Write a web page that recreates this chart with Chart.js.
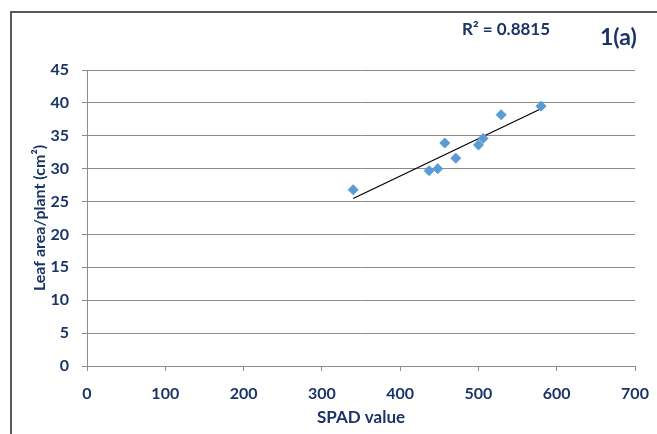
<!DOCTYPE html>
<html>
<head>
<meta charset="utf-8">
<script src="https://cdn.jsdelivr.net/npm/chart.js@4"></script>
<style>
    html, body { margin: 0; padding: 0; background: #fff; }
    #wrap { position: relative; width: 657px; height: 434px; overflow: hidden; }
    #frame { position: absolute; left: 10px; top: 11px; width: 660px; height: 440px;
             border-top: 2px solid #595959; border-left: 2px solid #595959; }
    canvas { position: absolute; left: 0; top: 0; }
    .note { position: absolute; font-family: Lato, sans-serif; font-weight: bold; color: #1a3466; white-space: nowrap; }
    #r2 { left: 462px; top: 18px; font-size: 17px; }
    #tag { left: 600px; top: 22px; font-size: 23px; }
</style>
</head>
<body>
<div id="wrap">
    <div id="frame"></div>
    <canvas id="chart" width="657" height="434"></canvas>
    <div class="note" id="r2">R² = 0.8815</div>
    <div class="note" id="tag">1(a)</div>
</div>
<script>
const spadValues = [340, 437, 448, 457, 471, 500, 506, 529, 580];
const leafArea = [26.8, 29.7, 30.0, 33.9, 31.6, 33.6, 34.6, 38.2, 39.5];
const xTicks = [0, 100, 200, 300, 400, 500, 600, 700];
const yTicks = [0, 5, 10, 15, 20, 25, 30, 35, 40, 45];

const textColor = '#1a3466';
const gridColor = '#8c8c8c';

// least squares trend line
function linearFit(xs, ys) {
    const n = xs.length;
    const mx = xs.reduce((a, b) => a + b, 0) / n;
    const my = ys.reduce((a, b) => a + b, 0) / n;
    let sxy = 0, sxx = 0;
    for (let i = 0; i < n; i++) {
        sxy += (xs[i] - mx) * (ys[i] - my);
        sxx += (xs[i] - mx) * (xs[i] - mx);
    }
    const slope = sxy / sxx;
    return { slope, intercept: my - slope * mx };
}

const fit = linearFit(spadValues, leafArea);
const xMin = Math.min(...spadValues);
const xMax = Math.max(...spadValues);
const trend = [xMin, xMax].map(x => ({ x, y: fit.intercept + fit.slope * x }));

const points = spadValues.map((x, i) => ({ x, y: leafArea[i] }));

const ctx = document.getElementById('chart').getContext('2d');
new Chart(ctx, {
    type: 'scatter',
    data: {
        datasets: [{
            label: 'Leaf area',
            data: points,
            pointStyle: 'rectRot',
            pointRadius: 5,
            pointBackgroundColor: '#5b9bd5',
            pointBorderColor: '#5b9bd5',
            pointBorderWidth: 1
        }, {
            label: 'Trend',
            type: 'line',
            data: trend,
            borderColor: '#000',
            borderWidth: 1.2,
            pointRadius: 0,
            fill: false
        }]
    },
    options: {
        responsive: false,
        animation: false,
        layout: { padding: { top: 70, right: 22, left: 0, bottom: 0 } },
        plugins: { legend: { display: false }, tooltip: { enabled: false } },
        scales: {
            x: {
                type: 'linear',
                min: 0,
                max: 700,
                afterBuildTicks: s => { s.ticks = xTicks.map(v => ({ value: v })); },
                afterFit: s => { s.height = 68; s.paddingLeft = 0; s.paddingRight = 0; },
                grid: { drawOnChartArea: false, color: gridColor, tickLength: 5 },
                border: { color: gridColor },
                ticks: { color: textColor, padding: 13, maxRotation: 0,
                         font: { family: 'Lato', size: 16, weight: 'bold' } },
                title: { display: true, text: 'SPAD value', color: textColor,
                         padding: { top: 0, bottom: 6 },
                         font: { family: 'Lato', size: 17, weight: 'bold' } }
            },
            y: {
                min: 0,
                max: 45,
                afterBuildTicks: s => { s.ticks = yTicks.map(v => ({ value: v })); },
                afterFit: s => { s.width = 87; },
                grid: { color: gridColor, tickLength: 5 },
                border: { color: gridColor },
                ticks: { color: textColor, padding: 13,
                         font: { family: 'Lato', size: 16, weight: 'bold' } },
                title: { display: true, text: 'Leaf area/plant (cm²)', color: textColor,
                         padding: { top: 30, bottom: 0 },
                         font: { family: 'Lato', size: 16, weight: 'bold' } }
            }
        }
    }
});
</script>
</body>
</html>
